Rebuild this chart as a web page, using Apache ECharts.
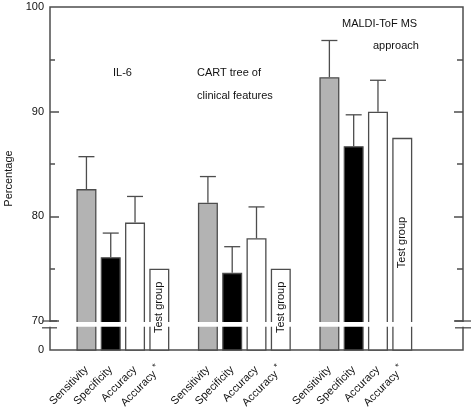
<!DOCTYPE html>
<html><head><meta charset="utf-8">
<script src="https://cdn.jsdelivr.net/npm/echarts@6/dist/echarts.min.js"></script>
<style>html,body{margin:0;padding:0;background:#fff}#c{width:474px;height:412px}</style>
</head><body><div id="c"></div>
<script>
// ---- data ----
const measures = ['Sensitivity', 'Specificity', 'Accuracy', 'Accuracy *'];
const il6Values = [82.6, 76.1, 79.4, 75.0];
const cartValues = [81.3, 74.6, 77.9, 75.0];
const maldiValues = [93.3, 86.7, 90.0, 87.5];
const il6ErrTop = [85.7, 78.4, 81.9, null];
const cartErrTop = [83.8, 77.1, 80.9, null];
const maldiErrTop = [96.8, 89.7, 93.0, null];
const testGroupLabelAt = [71.3, 71.3, 77.5];
const yTickMajor = [70, 80, 90, 100];
const yTickMinor = [75, 85, 95];
const yBreak = [69.35, 70];
const yZeroPos = 67.23;       // where the "0" label sits on the broken axis
const groupSlots = [1, 6, 11]; // first category slot of each group
const slotCount = 17;

// ---- styles ----
const barColors = ['#b3b3b3', '#000000', '#ffffff', '#ffffff'];
const lineCol = '#4d4d4d';
const textCol = '#111';
const FONT = 'Liberation Sans, Arial, sans-serif';

const groups = [
  {values: il6Values, err: il6ErrTop},
  {values: cartValues, err: cartErrTop},
  {values: maldiValues, err: maldiErrTop}
];

const categories = new Array(slotCount).fill('');
const barData = new Array(slotCount).fill('-');
const errData = [];
const testData = [];
groups.forEach((g, gi) => {
  const s = groupSlots[gi];
  measures.forEach((m, mi) => {
    categories[s + mi] = m;
    barData[s + mi] = {value: g.values[mi], itemStyle: {color: barColors[mi]}};
    if (g.err[mi] != null) errData.push([s + mi, g.values[mi], g.err[mi]]);
  });
  testData.push([s + 3, testGroupLabelAt[gi]]);
});

const chart = echarts.init(document.getElementById('c'), null, {renderer: 'canvas'});

const yBase = {
  type: 'value', min: yZeroPos, max: 100, splitLine: {show: false},
  axisLine: {show: false}
};

chart.setOption({
  animation: false,
  textStyle: {fontFamily: FONT},
  grid: {left: 50, right: 11, top: 7, bottom: 62, containLabel: false, outerBoundsMode: 'none',
    show: true, borderColor: lineCol, borderWidth: 1.5, backgroundColor: 'transparent'},
  xAxis: {
    type: 'category', data: categories, boundaryGap: true,
    axisLine: {show: false}, axisTick: {show: false},
    axisLabel: {
      interval: 0, rotate: 45, margin: 18, fontSize: 11, color: textCol, fontFamily: FONT,
      formatter: v => v.replace(' *', '{s|*}'),
      rich: {s: {fontSize: 9, color: textCol, verticalAlign: 'bottom', padding: [0, 0, 8, 3], fontFamily: FONT}}
    }
  },
  yAxis: [
    Object.assign({}, yBase, {
      position: 'left',
      name: 'Percentage', nameLocation: 'middle', nameGap: 35,
      nameTextStyle: {fontSize: 11, color: textCol, fontFamily: FONT},
      axisTick: {show: true, inside: true, length: 9, customValues: yTickMajor.filter(v => v < 100), lineStyle: {color: lineCol, width: 1.5}},
      axisLabel: {show: true, margin: 6, fontSize: 11, color: textCol, fontFamily: FONT,
        customValues: [yZeroPos].concat(yTickMajor),
        formatter: v => (Math.abs(v - yZeroPos) < 0.01 ? '0' : String(Math.round(v)))}
    }),
    Object.assign({}, yBase, {
      position: 'left',
      axisTick: {show: true, inside: true, length: 5, customValues: yTickMinor, lineStyle: {color: lineCol, width: 1.5}},
      axisLabel: {show: false}
    }),
    Object.assign({}, yBase, {
      position: 'right',
      axisTick: {show: true, inside: true, length: 9, customValues: yTickMajor.filter(v => v < 100), lineStyle: {color: lineCol, width: 1.5}},
      axisLabel: {show: false}
    }),
    Object.assign({}, yBase, {
      position: 'right',
      axisTick: {show: true, inside: true, length: 6, customValues: yTickMinor, lineStyle: {color: lineCol, width: 1.5}},
      axisLabel: {show: false}
    })
  ],
  series: [
    {
      type: 'bar', data: barData, barWidth: 20, yAxisIndex: 0, z: 2,
      itemStyle: {borderColor: lineCol, borderWidth: 1.3}
    },
    {
      type: 'custom', data: errData, yAxisIndex: 0, z: 3,
      renderItem(params, api) {
        const x = api.value(0), v = api.value(1), e = api.value(2);
        const p0 = api.coord([x, v]), p1 = api.coord([x, e]);
        const h = 8;
        return {type: 'group', children: [
          {type: 'line', shape: {x1: p0[0], y1: p0[1], x2: p1[0], y2: p1[1]}, style: {stroke: lineCol, lineWidth: 1.3}},
          {type: 'line', shape: {x1: p1[0] - h, y1: p1[1], x2: p1[0] + h, y2: p1[1]}, style: {stroke: lineCol, lineWidth: 1.3}}
        ]};
      }
    },
    {
      type: 'custom', data: testData, yAxisIndex: 0, z: 200, zlevel: 0,
      renderItem(params, api) {
        const p = api.coord([api.value(0), api.value(1)]);
        return {type: 'text', x: p[0], y: p[1], rotation: Math.PI / 2,
          style: {text: 'Test group', align: 'center', verticalAlign: 'middle', fontSize: 11, fontFamily: FONT, fill: textCol}};
      }
    }
  ]
});

// axis break band + marks, positioned from the value axis
const yTop = chart.convertToPixel({yAxisIndex: 0}, yBreak[1]);
const yBot = chart.convertToPixel({yAxisIndex: 0}, yBreak[0]);
const xL = 50, xR = 474 - 11;
const markStyle = {stroke: lineCol, lineWidth: 1.3};
const txt = (t, x, y) => ({type: 'text', x, y, z: 120, style: {text: t, fontSize: 11, fontFamily: FONT, fill: textCol}});
chart.setOption({
  graphic: [
    {type: 'rect', z: 100, shape: {x: xL - 5, y: yTop + 1, width: xR - xL + 10, height: yBot - yTop - 2}, style: {fill: '#fff'}},
    {type: 'line', z: 110, shape: {x1: xL - 8, y1: yTop, x2: xL + 7, y2: yTop}, style: markStyle},
    {type: 'line', z: 110, shape: {x1: xL - 8, y1: yBot, x2: xL + 7, y2: yBot}, style: markStyle},
    {type: 'line', z: 110, shape: {x1: xR - 8, y1: yTop, x2: xR + 8, y2: yTop}, style: markStyle},
    {type: 'line', z: 110, shape: {x1: xR - 8, y1: yBot, x2: xR + 8, y2: yBot}, style: markStyle},
    txt('IL-6', 113, 67),
    txt('CART tree of', 197, 67),
    txt('clinical features', 197, 90),
    txt('MALDI-ToF MS', 342, 18),
    txt('approach', 373, 40)
  ]
});
</script>
</body></html>
